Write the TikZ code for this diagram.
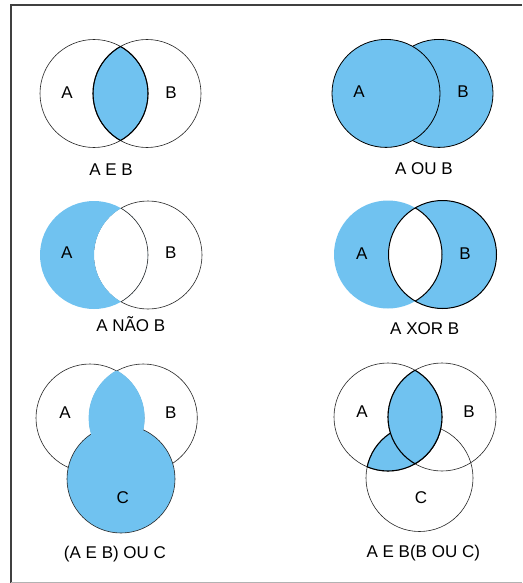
\documentclass[tikz,border=0pt]{standalone}
\usepackage{fontspec}
\setmainfont{Liberation Sans}
\definecolor{vblue}{RGB}{112,194,240}
\newcommand\venrad{54pt}
\begin{document}
\begin{tikzpicture}[x=1pt,y=-1pt,
  thinline/.style={line width=0.6pt, draw=black!85},
  thickline/.style={line width=1.1pt, draw=black},
  lbl/.style={anchor=base, inner sep=0pt, font=\fontsize{17}{20}\selectfont},
]
\useasboundingbox (0,0) rectangle (522,583);
\fill[white] (0,0) rectangle (522,583);
% frame
\coordinate (f1) at (522,5); \coordinate (f2) at (11,5); \coordinate (f3) at (11,583);
\coordinate (f4) at (11,582); \coordinate (f5) at (522,582);
\draw[line width=2pt, black!75] (f1) -- (f2) -- (f3);
\draw[line width=1pt, black!30] (f4) -- (f5);

% ---------- A E B (top left)
\coordinate (tlA) at (94,93.5); \coordinate (tlB) at (147,93.5);
\begin{scope}\clip (tlA) circle[radius=\venrad]; \fill[vblue] (tlB) circle[radius=\venrad];\end{scope}
\draw[thinline] (tlA) circle[radius=\venrad];
\draw[thinline] (tlB) circle[radius=\venrad];
\begin{scope}\clip (tlA) circle[radius=\venrad]; \draw[thickline] (tlB) circle[radius=\venrad];\end{scope}
\begin{scope}\clip (tlB) circle[radius=\venrad]; \draw[thickline] (tlA) circle[radius=\venrad];\end{scope}
\node[lbl] (tlLA) at (67,98.3) {A};
\node[lbl] (tlLB) at (171,98.3) {B};
\node[lbl] (tlT) at (111,175) {A E B};

% ---------- A OU B (top right)
\coordinate (trA) at (386,93.4); \coordinate (trB) at (439,93.4);
\filldraw[fill=vblue, line width=0.8pt] (trB) circle[radius=\venrad];
\filldraw[fill=vblue, line width=0.8pt] (trA) circle[radius=\venrad];
\node[lbl] (trLA) at (359,97.7) {A};
\node[lbl] (trLB) at (463,97.7) {B};
\node[lbl] (trT) at (424,174) {A OU B};

% ---------- A NAO B (middle left)
\coordinate (mlA) at (94,255); \coordinate (mlB) at (148,255);
\draw[thinline] (mlB) circle[radius=\venrad];
\begin{scope}\clip (mlA) circle[radius=\venrad]; \fill[white] (mlB) circle[radius=\venrad];
  \fill[vblue, even odd rule] (mlA) circle[radius=\venrad] (mlB) circle[radius=\venrad];\end{scope}
\begin{scope}\clip (mlB) circle[radius=\venrad]; \draw[thinline] (mlA) circle[radius=\venrad];\end{scope}
\node[lbl] (mlLA) at (66.7,258.7) {A};
\node[lbl] (mlLB) at (170.7,258.7) {B};
\node[lbl] (mlT) at (130.8,331) {A NÃO B};

% ---------- A XOR B (middle right)
\coordinate (mrA) at (388,254.5); \coordinate (mrB) at (442.5,254.5);
\fill[vblue] (mrA) circle[radius=\venrad];
\fill[vblue] (mrB) circle[radius=\venrad];
\begin{scope}\clip (mrA) circle[radius=\venrad]; \fill[white] (mrB) circle[radius=\venrad];\end{scope}
\draw[line width=1pt] (mrB) circle[radius=\venrad];
\begin{scope}\clip (mrB) circle[radius=\venrad]; \draw[line width=1pt] (mrA) circle[radius=\venrad];\end{scope}
\node[lbl] (mrLA) at (361.7,259) {A};
\node[lbl] (mrLB) at (465,259) {B};
\node[lbl] (mrT) at (424.7,334) {A XOR B};

% ---------- (A E B) OU C (bottom left)
\coordinate (blA) at (90,418); \coordinate (blB) at (143.3,418); \coordinate (blC) at (121,479);
\draw[thinline] (blA) circle[radius=\venrad];
\draw[thinline] (blB) circle[radius=\venrad];
\filldraw[fill=vblue, thinline] (blC) circle[radius=\venrad];
\begin{scope}\clip (blA) circle[radius=\venrad]; \fill[vblue] (blB) circle[radius=\venrad];
  \draw[vblue, line width=1.4pt] (blB) circle[radius=\venrad];\end{scope}
\begin{scope}\clip (blB) circle[radius=\venrad]; \draw[vblue, line width=1.4pt] (blA) circle[radius=\venrad];\end{scope}
\node[lbl] (blLA) at (65,418.3) {A};
\node[lbl] (blLB) at (170.7,418.3) {B};
\node[lbl] (blLC) at (122.7,503) {C};
\node[lbl] (blT) at (115,558.3) {(A E B) OU C};

% ---------- A E B(B OU C) (bottom right)
\coordinate (brA) at (388,417); \coordinate (brB) at (442,417); \coordinate (brC) at (419.5,478);
\draw[thinline] (brA) circle[radius=\venrad];
\draw[thinline] (brB) circle[radius=\venrad];
\draw[thinline] (brC) circle[radius=53.5pt];
\begin{scope}\clip (brA) circle[radius=\venrad]; \fill[vblue] (brC) circle[radius=53.5pt];
  \draw[thickline] (brC) circle[radius=53.5pt];\end{scope}
\begin{scope}\clip (brC) circle[radius=53.5pt]; \draw[thickline] (brA) circle[radius=\venrad];\end{scope}
\begin{scope}\clip (brA) circle[radius=\venrad]; \fill[vblue] (brB) circle[radius=\venrad];
  \draw[thickline] (brB) circle[radius=\venrad];\end{scope}
\begin{scope}\clip (brB) circle[radius=\venrad]; \draw[thickline] (brA) circle[radius=\venrad];\end{scope}
\node[lbl] (brLA) at (362,417.3) {A};
\node[lbl] (brLB) at (469,417.3) {B};
\node[lbl] (brLC) at (421,503) {C};
\node[lbl] (brT) at (423.3,557.3) {A E B(B OU C)};
\end{tikzpicture}
\end{document}
